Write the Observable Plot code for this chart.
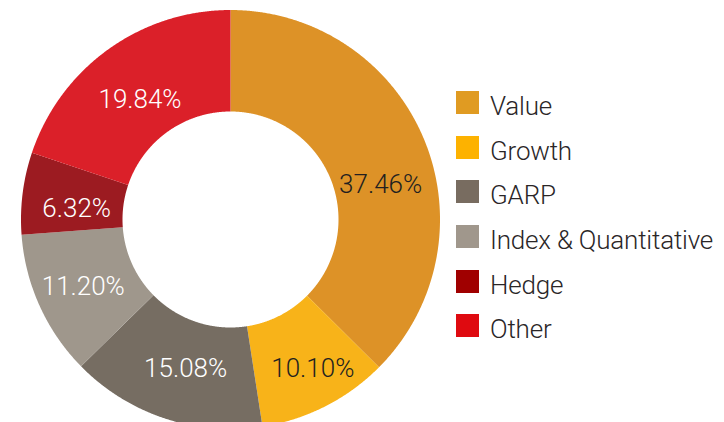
<!DOCTYPE html>
<html><head><meta charset="utf-8">
<script src="https://cdn.jsdelivr.net/npm/d3@7"></script>
<script src="https://cdn.jsdelivr.net/npm/@observablehq/plot@0.6"></script>
<style>
body{margin:0;background:#fff;}
#wrap{position:relative;width:724px;height:422px;overflow:hidden;}
#legend{position:absolute;left:456px;top:80.2px;width:268px;}
#legend .lg-swatches{font-family:Roboto,sans-serif;font-weight:300;font-size:26px;color:#2a2627;margin:0;letter-spacing:-0.2px;}
#legend .lg-swatch{height:44.7px;padding:0;display:flex;align-items:center;}
#legend .lg-swatch > svg{margin-right:11px;flex-shrink:0;}
#legend .lg-swatch-label{position:relative;top:3.5px;overflow:visible;white-space:nowrap;}
</style></head><body><div id="wrap"><div id="chart"></div><div id="legend"></div></div>
<script>
const categories = ["Value", "Growth", "GARP", "Index & Quantitative", "Hedge", "Other"];
const shares = [37.46, 10.10, 15.08, 11.20, 6.32, 19.84];
const sliceColors = ["#dd9227", "#f8b319", "#766d62", "#9f978c", "#9c1b21", "#db2029"];
const legendColors = ["#e09b22", "#fdb200", "#786c60", "#a0978c", "#a00000", "#df0a10"];
const darkLabels = ["Value", "Growth"];

// label nudges in pixels (layout, not data)
const labelNudge = {"Value": [7, 25], "Growth": [12, 11], "GARP": [4, 2.5], "Index & Quantitative": [-6, 3.5], "Hedge": [0, 9], "Other": [0, 6]};
const R = 209.5;
const innerRatio = 108 / R;
const labelRadius = 155 / R;
const total = d3.sum(shares);
let acc = 0;
const poly = [];
const labelPts = [];
categories.forEach((c, i) => {
  const a0 = acc / total * 2 * Math.PI;
  acc += shares[i];
  const a1 = acc / total * 2 * Math.PI;
  const n = Math.max(2, Math.ceil((a1 - a0) / 0.005));
  for (let k = 0; k <= n; k++) {
    const t = a0 + (a1 - a0) * k / n;
    poly.push({cat: c, x: Math.sin(t), y: Math.cos(t)});
  }
  for (let k = n; k >= 0; k--) {
    const t = a0 + (a1 - a0) * k / n;
    poly.push({cat: c, x: innerRatio * Math.sin(t), y: innerRatio * Math.cos(t)});
  }
  const am = (a0 + a1) / 2;
  const [nx, ny] = labelNudge[c];
  labelPts.push({cat: c, label: shares[i].toFixed(2) + "%",
    x: labelRadius * Math.sin(am) + nx / R, y: labelRadius * Math.cos(am) - ny / R});
});

const textOpts = {x: "x", y: "y", text: "label", fontFamily: "Roboto, sans-serif", fontWeight: 300, fontSize: 26, letterSpacing: "-0.3px"};
const chart = Plot.plot({
  width: 724, height: 422, margin: 0,
  x: {domain: [-1, 1], range: [230 - R, 230 + R], axis: null},
  y: {domain: [-1, 1], range: [219 + R, 219 - R], axis: null},
  color: {domain: categories, range: sliceColors},
  marks: [
    Plot.line(poly, {x: "x", y: "y", z: "cat", fill: "cat", stroke: "none", curve: "linear"}),
    Plot.text(labelPts.filter(d => darkLabels.includes(d.cat)), {...textOpts, fill: "#231f20"}),
    Plot.text(labelPts.filter(d => !darkLabels.includes(d.cat)), {...textOpts, fill: "#ffffff"})
  ]
});
document.getElementById("chart").append(chart);

const legend = Plot.legend({
  color: {type: "ordinal", domain: categories, range: legendColors},
  legend: "swatches", columns: 1, swatchSize: 23, className: "lg"
});
document.getElementById("legend").append(legend);
</script></body></html>
